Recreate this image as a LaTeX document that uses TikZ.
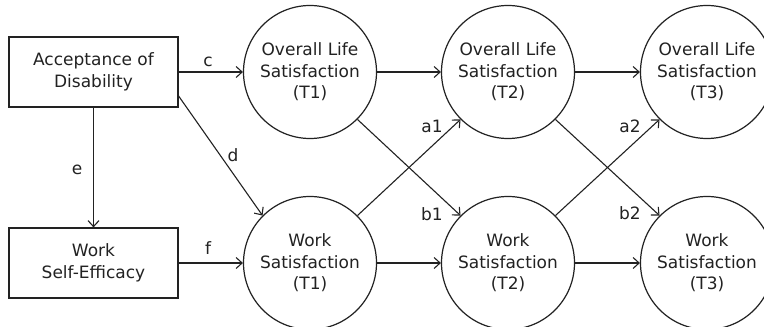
\documentclass[tikz,border=0pt]{standalone}
\usepackage{fontspec}
\setmainfont{DejaVu Sans}
\usetikzlibrary{arrows.meta,calc}
\definecolor{ink}{HTML}{222222}
\tikzset{
  every node/.style={font=\fontsize{17}{21.5}\selectfont, text=ink},
  box/.style={draw=ink, line width=1.2pt, minimum width=169pt, minimum height=70pt, align=center, inner sep=0pt},
  latent/.style={draw=ink, line width=1.2pt, circle, minimum size=133pt, align=center, inner sep=0pt},
  path/.style={draw=ink, line width=1.1pt, -{Straight Barb[length=6pt,width=11pt,line width=1.1pt]}},
  lbl/.style={inner sep=0pt}
}
\begin{document}
\begin{tikzpicture}[x=1pt,y=1pt]
\useasboundingbox (0,0) rectangle (764,327);
\clip (0,0) rectangle (764,327);
\fill[white] (0,0) rectangle (764,327);
\node[box] (acc) at (93.5,255) {Acceptance of\\Disability};
\node[box] (wse) at (93.5,64) {Work\\Self-Efficacy};
\node[latent] (o1) at (310,255) {Overall Life\\Satisfaction\\(T1)};
\node[latent] (o2) at (508,255) {Overall Life\\Satisfaction\\(T2)};
\node[latent] (o3) at (707,255) {Overall Life\\Satisfaction\\(T3)};
\node[latent] (w1) at (310,64) {Work\\Satisfaction\\(T1)};
\node[latent] (w2) at (508,64) {Work\\Satisfaction\\(T2)};
\node[latent] (w3) at (707,64) {Work\\Satisfaction\\(T3)};
\coordinate (dstart) at ($(acc.east)+(0,-24)$);
\draw[path] (acc.east) -- (o1.west);
\draw[path] (wse.east) -- (w1.west);
\draw[path] (acc.south) -- (wse.north);
\draw[path] (dstart) -- (w1.135);
\draw[path] (o1.east) -- (o2.west);
\draw[path] (o2.east) -- (o3.west);
\draw[path] (w1.east) -- (w2.west);
\draw[path] (w2.east) -- (w3.west);
\draw[path] (w1.45) -- (o2.225);
\draw[path] (o1.-45) -- (w2.135);
\draw[path] (w2.45) -- (o3.225);
\draw[path] (o2.-45) -- (w3.135);
\node[lbl] (lc) at (208,265) {c};
\node[lbl] (lf) at (208,79) {f};
\node[lbl] (le) at (77,157) {e};
\node[lbl] (ld) at (233,172) {d};
\node[lbl] (la1) at (432,201) {a1};
\node[lbl] (lb1) at (432,113) {b1};
\node[lbl] (la2) at (630,201) {a2};
\node[lbl] (lb2) at (630,114) {b2};
\end{tikzpicture}
\end{document}
